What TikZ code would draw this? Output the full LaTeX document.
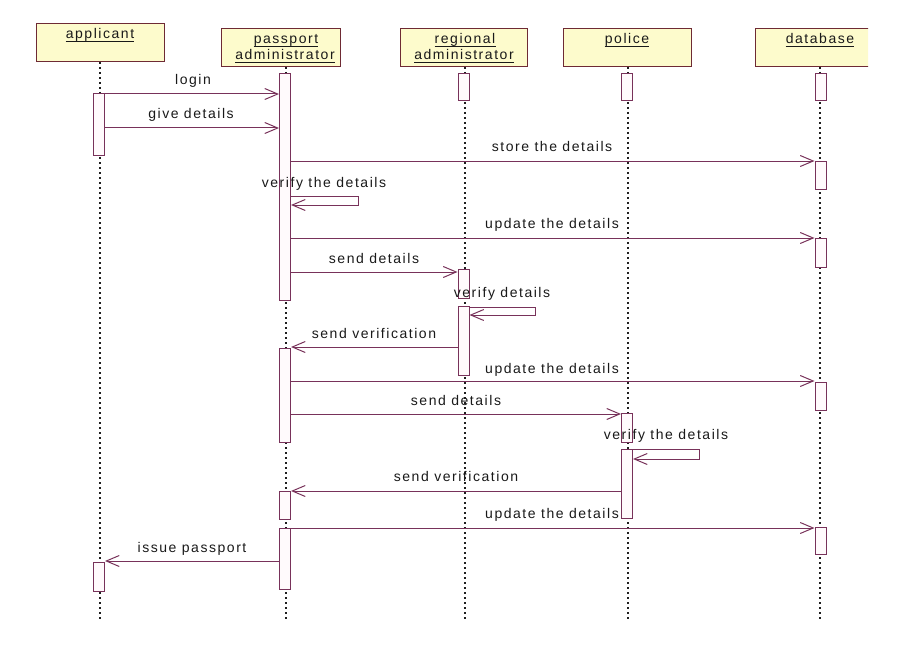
\documentclass[tikz,border=0pt]{standalone}
\usepackage{fontspec}
\setmainfont{Liberation Sans}[LetterSpace=11]
\usetikzlibrary{arrows.meta}

\definecolor{msgline}{RGB}{120,50,90}
\definecolor{hdrborder}{RGB}{110,42,52}
\definecolor{hdrfill}{RGB}{253,251,204}
\definecolor{barfill}{RGB}{255,250,252}
\definecolor{dotcol}{RGB}{30,30,30}
\definecolor{txtcol}{RGB}{25,25,25}

% one underlined line of an object name
\newcommand\objname[4]{%
  \node[hdrtext] (#1) at (#2,#3) {#4};
  \draw[uline] ([yshift=-2.6pt]#1.base west) -- ([yshift=-2.6pt]#1.base east);}

\begin{document}
\begin{tikzpicture}[x=1pt,y=-1pt,
  hdr/.style={draw=hdrborder, fill=hdrfill, line width=1pt, inner sep=0pt,
              minimum height=38pt, anchor=north west},
  hdrtext/.style={text=txtcol, font=\fontsize{14}{16}\selectfont, inner sep=0pt, anchor=base},
  uline/.style={draw=txtcol, line width=0.8pt},
  lifeline/.style={draw=dotcol, line width=1.2pt, dash pattern=on 2pt off 3pt},
  actbar/.style={draw=msgline, fill=barfill, line width=1pt, inner sep=0pt, minimum width=11pt},
  msg/.style={draw=msgline, line width=1pt, -{Straight Barb[length=13pt,width=11pt,line width=1pt]}},
  msglabel/.style={text=txtcol, font=\fontsize{14}{16}\selectfont, inner sep=0pt, anchor=base}]

\useasboundingbox (0,0) rectangle (910,650);

% object headers
\node[hdr, minimum width=128pt] (hA) at (36,23) {};
\node[hdr, minimum width=119pt] (hB) at (221,28) {};
\node[hdr, minimum width=127pt] (hC) at (400,28) {};
\node[hdr, minimum width=128pt] (hD) at (563,28) {};
\begin{scope}
  \clip (0,0) rectangle (868,650);
  \node[hdr, minimum width=131pt] (hE) at (755,28) {};
\end{scope}

\objname{nA}{100}{39}{applicant}
\objname{nB1}{286}{44}{passport\ }
\objname{nB2}{285}{60}{administrator}
\objname{nC1}{465}{44}{regional\ }
\objname{nC2}{464}{60}{administrator}
\objname{nD}{627}{44}{police}
\objname{nE}{820}{44}{database}

% lifeline ends
\coordinate (eA) at (100,620);
\coordinate (eB) at (286,620);
\coordinate (eC) at (465,620);
\coordinate (eD) at (628,620);
\coordinate (eE) at (820,620);

\draw[lifeline] (eA |- hA.south) -- (eA);
\draw[lifeline] (eB |- hB.south) -- (eB);
\draw[lifeline] (eC |- hC.south) -- (eC);
\draw[lifeline] (eD |- hD.south) -- (eD);
\draw[lifeline] (eE |- hE.south) -- (eE);

% activation bars
\node[actbar, minimum height=61pt] (ap1) at (99,124.5) {};
\node[actbar, minimum height=29pt] (ap2) at (99,576.5) {};

\node[actbar, minimum height=226pt] (pa1) at (285,187) {};
\node[actbar, minimum height=94pt]  (pa2) at (285,395) {};
\node[actbar, minimum height=28pt]  (pa3) at (285,505) {};
\node[actbar, minimum height=61pt]  (pa4) at (285,558.5) {};

\node[actbar, minimum height=27pt] (ra1) at (463.5,87.5) {};
\node[actbar, minimum height=29pt] (ra2) at (463.5,283.5) {};
\node[actbar, minimum height=69pt] (ra3) at (463.5,340.5) {};

\node[actbar, minimum height=27pt] (po1) at (627,87.5) {};
\node[actbar, minimum height=29pt] (po2) at (627,427.5) {};
\node[actbar, minimum height=69pt] (po3) at (627,483.5) {};

\node[actbar, minimum height=27pt] (db1) at (820.5,87.5) {};
\node[actbar, minimum height=28pt] (db2) at (820.5,175) {};
\node[actbar, minimum height=29pt] (db3) at (820.5,252.5) {};
\node[actbar, minimum height=28pt] (db4) at (820.5,396) {};
\node[actbar, minimum height=27pt] (db5) at (820.5,540.5) {};

% messages
\draw[msg] (ap1.east |- 0,94) -- (pa1.west |- 0,94);
\node[msglabel] (m1) at (193,85) {login};

\draw[msg] (ap1.east |- 0,128) -- (pa1.west |- 0,128);
\node[msglabel] (m2) at (191,119) {give details};

\draw[msg] (pa1.east |- 0,161) -- (db2.west |- 0,161);
\node[msglabel] (m3) at (552,152) {store the details};

\draw[msg] (pa1.east |- 0,196) -| (358,205) -- (pa1.east |- 0,205);
\node[msglabel] (m4) at (324,187) {verify the details};

\draw[msg] (pa1.east |- 0,238) -- (db3.west |- 0,238);
\node[msglabel] (m5) at (552,228) {update the details};

\draw[msg] (pa1.east |- 0,272) -- (ra2.west |- 0,272);
\node[msglabel] (m6) at (374,263) {send details};

\draw[msg] (ra3.east |- 0,307) -| (535,315) -- (ra3.east |- 0,315);
\node[msglabel] (m7) at (502,297) {verify details};

\draw[msg] (ra3.west |- 0,347) -- (pa2.east |- 0,347);
\node[msglabel] (m8) at (374,338) {send verification};

\draw[msg] (pa2.east |- 0,381) -- (db4.west |- 0,381);
\node[msglabel] (m9) at (552,373) {update the details};

\draw[msg] (pa2.east |- 0,414) -- (po2.west |- 0,414);
\node[msglabel] (m10) at (456,405) {send details};

\draw[msg] (po3.east |- 0,449) -| (699,459) -- (po3.east |- 0,459);
\node[msglabel] (m11) at (666,439) {verify the details};

\draw[msg] (po3.west |- 0,491) -- (pa3.east |- 0,491);
\node[msglabel] (m12) at (456,481) {send verification};

\draw[msg] (pa4.east |- 0,528) -- (db5.west |- 0,528);
\node[msglabel] (m13) at (552,518) {update the details};

\draw[msg] (pa4.west |- 0,561) -- (ap2.east |- 0,561);
\node[msglabel] (m14) at (192,552) {issue passport};

\end{tikzpicture}
\end{document}
